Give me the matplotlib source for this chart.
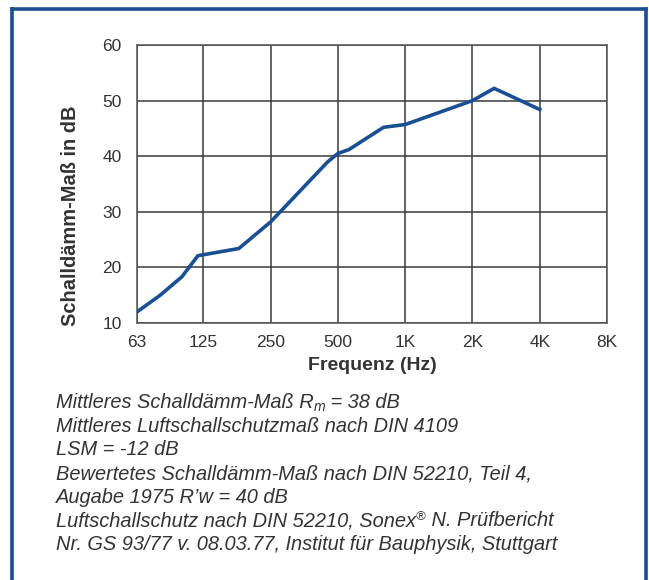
import matplotlib
matplotlib.use("Agg")
import matplotlib.pyplot as plt
from matplotlib.lines import Line2D

plt.rcParams['font.family'] = ['Liberation Sans', 'DejaVu Sans']

# data (Hz, dB)
freq = [63, 80, 100, 118, 180, 250, 450, 500, 560, 800, 1000, 2000, 2500, 4000]
daemm = [12.0, 15.0, 18.3, 22.1, 23.4, 28.2, 39.0, 40.5, 41.2, 45.2, 45.7, 50.0, 52.2, 48.4]

tick_freq = [63, 125, 250, 500, 1000, 2000, 4000, 8000]
tick_labels = ["63", "125", "250", "500", "1K", "2K", "4K", "8K"]
y_ticks = [10, 20, 30, 40, 50, 60]

# each note line is a list of (text, kind): kind "n" normal, "sub", "sup"
notes = [
    [("Mittleres Schalldämm-Maß R", "n"), ("m", "sub"), (" = 38 dB", "n")],
    [("Mittleres Luftschallschutzmaß nach DIN 4109", "n")],
    [("LSM = -12 dB", "n")],
    [("Bewertetes Schalldämm-Maß nach DIN 52210, Teil 4,", "n")],
    [("Augabe 1975 R’w = 40 dB", "n")],
    [("Luftschallschutz nach DIN 52210, Sonex", "n"), ("®", "sup"), (" N. Prüfbericht", "n")],
    [("Nr. GS 93/77 v. 08.03.77, Institut für Bauphysik, Stuttgart", "n")],
]

BLUE = "#1b4f93"
GRID = "#3a3a3a"
TEXT = "#333333"

W, H = 649, 580
fig = plt.figure(figsize=(W / 100, H / 100), dpi=100)

# blue frame (top, left, right; open at bottom)
fx0, fx1, fy = 11.5 / W, 645.5 / W, 1 - 8.5 / H
for xs, ys in [([fx0, fx1], [fy, fy]), ([fx0, fx0], [fy, 0]), ([fx1, fx1], [fy, 0])]:
    fig.add_artist(Line2D(xs, ys, color=BLUE, lw=2.6, transform=fig.transFigure,
                          solid_capstyle='projecting'))

ax = fig.add_axes([137 / W, 1 - 323 / H, (607 - 137) / W, (323 - 45) / H])
ax.plot(freq, daemm, color=BLUE, lw=2.6, solid_joinstyle='miter', zorder=3)

ax.set_xscale('log', base=2)
ax.set_xlim(63, 8000)
ax.set_ylim(10, 60)
ax.set_xticks(tick_freq)
ax.set_xticklabels(tick_labels)
ax.minorticks_off()
ax.set_yticks(y_ticks)
ax.grid(True, color=GRID, lw=1.1)
for s in ax.spines.values():
    s.set_color("#555555")
    s.set_linewidth(1.1)
ax.tick_params(length=0, labelsize=12.5, colors=TEXT)
ax.tick_params(axis='y', pad=11)
ax.tick_params(axis='x', pad=9)

ax.set_xlabel("Frequenz (Hz)", fontsize=14, fontweight='bold', color=TEXT, labelpad=5)
# y label sits low in the reference, not centred on the axes
fig.text(70 / W, 1 - 216 / H, "Schalldämm-Maß in dB", fontsize=14.4, fontweight='bold',
         color=TEXT, rotation=90, ha='center', va='center')

# footnotes, pieced together so sub/superscripts sit right
renderer = fig.canvas.get_renderer()
FS = 14.4
y0 = 408
for i, parts in enumerate(notes):
    x = 56.0
    base = y0 + i * 23.7
    for txt, kind in parts:
        size, dy = FS, 0
        if kind == "sub":
            size, dy = FS * 0.7, 3
        elif kind == "sup":
            size, dy = FS * 0.65, -6
        t = fig.text(x / W, 1 - (base + dy) / H, txt, fontsize=size, style='italic',
                     color=TEXT, va='baseline', ha='left')
        x += t.get_window_extent(renderer).width

fig.savefig("out.png", dpi=100)
